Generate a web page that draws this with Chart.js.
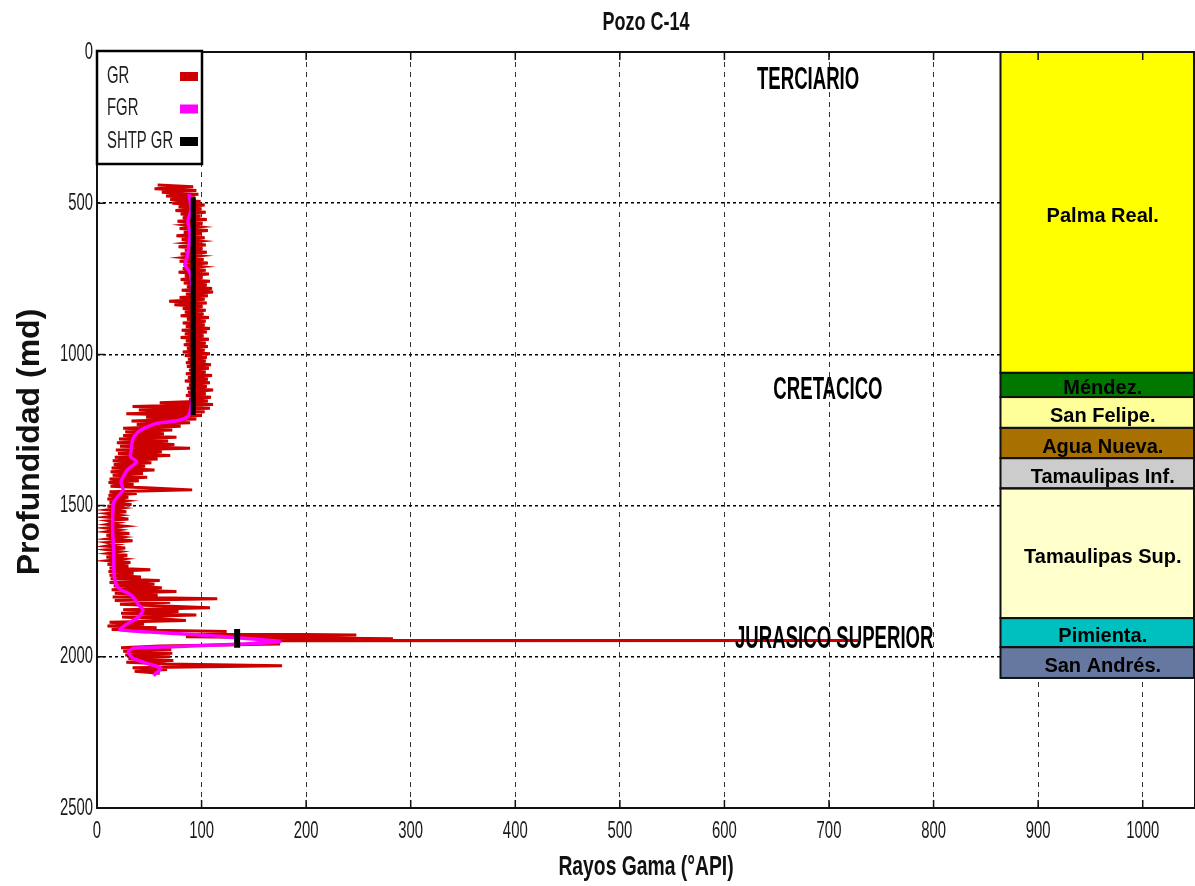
<!DOCTYPE html>
<html lang="es">
<head>
<meta charset="UTF-8">
<title>Pozo C-14</title>
<style>
  html, body { margin:0; padding:0; background:#fff; }
  #wrap { width:1195px; height:886px; }
</style>
</head>
<body>
<div id="wrap"><canvas id="chart" width="1195" height="886"></canvas></div>

<script src="https://cdn.jsdelivr.net/npm/chart.js"></script>
<script>
// GR (registro de rayos gama), profundidad / valor
const grDepth = [
  440,446,452,458,464,470,476,482,488,494,
  500,506,512,518,524,530,536,542,548,554,
  560,566,572,578,584,590,596,602,608,614,
  620,626,632,638,644,650,656,662,668,674,
  680,686,692,698,704,710,716,722,728,734,
  740,746,752,758,764,770,776,782,788,794,
  800,806,812,818,824,830,836,842,848,854,
  860,866,872,878,884,890,896,902,908,914,
  920,926,932,938,944,950,956,962,968,974,
  980,986,992,998,1004,1010,1016,1022,1028,1034,
  1040,1046,1052,1058,1064,1070,1076,1082,1088,1094,
  1100,1106,1112,1118,1124,1130,1136,1142,1148,1154,
  1160,1166,1172,1178,1184,1190,1196,1202,1208,1214,
  1220,1226,1232,1238,1244,1250,1256,1262,1268,1274,
  1280,1286,1292,1298,1304,1310,1316,1322,1328,1334,
  1340,1346,1352,1358,1364,1370,1376,1382,1388,1394,
  1400,1406,1412,1418,1424,1430,1436,1442,1448,1454,
  1460,1466,1472,1478,1484,1490,1496,1502,1508,1514,
  1520,1526,1532,1538,1544,1550,1556,1562,1568,1574,
  1580,1586,1592,1598,1604,1610,1616,1622,1628,1634,
  1640,1646,1652,1658,1664,1670,1676,1682,1688,1694,
  1700,1706,1712,1718,1724,1730,1736,1742,1748,1754,
  1760,1766,1772,1778,1784,1790,1796,1802,1808,1814,
  1820,1826,1832,1838,1844,1850,1856,1862,1868,1874,
  1880,1886,1892,1898,1904,1910,1916,1922,1928,1934,
  1940,1945,1946,1947,1952,1958,1964,1970,1976,1982,1988,1994,
  2000,2006,2012,2018,2024,2030,2036,2042,2048,2054
];
const grValue = [
  58,92,55,95,62,97,66,94,70,99,
  72,103,78,100,75,104,80,99,82,105,
  77,101,84,98,79,106,83,100,76,103,
  81,99,85,104,78,101,84,105,80,98,
  83,102,79,106,85,100,82,104,78,107,
  84,101,80,108,83,105,86,110,81,111,
  85,106,79,103,69,105,74,101,82,104,
  84,102,80,107,86,104,82,103,85,108,
  81,105,84,102,80,107,85,104,83,106,
  86,103,82,108,84,105,87,104,85,109,
  86,107,88,104,85,110,87,106,84,108,
  88,105,86,111,87,104,85,109,88,106,
  60,111,34,108,40,103,28,100,47,95,
  33,89,38,80,25,72,27,64,25,76,
  21,68,19,74,22,89,18,62,20,70,
  17,58,15,52,16,46,14,55,13,44,
  15,48,12,40,11,35,13,52,91,12,
  38,11,30,10,27,12,33,10,24,11,
  28,10,22,9,30,11,20,10,26,9,
  21,10,31,9,24,11,34,10,19,9,
  27,10,22,11,29,9,25,11,32,10,
  30,12,51,11,35,12,42,13,60,12,
  55,16,62,14,76,17,58,15,115,17,
  70,22,64,108,25,78,23,95,24,60,
  85,12,45,10,57,14,124,75,248,85,
  283,170,728,175,160,175,60,23,71,25,72,27,
  70,30,73,28,66,177,34,67,36,60
];

// FGR (GR filtrado)
const fgrDepth = [470,520,560,600,640,680,704,730,780,850,950,1050,1150,1190,1205,1218,1228,1240,1250,1265,
  1283,1310,1338,1355,1382,1421,1448,1470,1488,1530,1590,1650,1700,1745,1765,1779,1790,1800,1829,1845,
  1868,1885,1895,1911,1922,1933,1950,1960,1967,1972,1984,2004,2021,2037,2053,2062];
const fgrValue = [88,90,87,89,88,86,84,89,91,92,92,92,91,89,87,79,57,48,42,37,
  34,33,32,38,29,23,25,20,16,15,15,16,16,17,19,23,30,34,40,44,
  40,32,27,22,71,120,175,120,72,35,30,34,47,61,57,54];

// SHTP GR (dos tramos)
const shtpDepthA = [480, 1200];
const shtpValueA = [92, 92];
const shtpDepthB = [1908, 1970];
const shtpValueB = [134, 134];

// columna de formaciones
const formationNames = ['Palma Real.','Méndez.','San Felipe.','Agua Nueva.','Tamaulipas Inf.','Tamaulipas Sup.','Pimienta.','San Andrés.'];
const formationTop   = [0, 1061, 1141, 1243, 1343, 1443, 1872, 1968];
const formationBase  = [1061, 1141, 1243, 1343, 1443, 1872, 1968, 2070];
const formationColors = ['#ffff00','#007800','#ffff99','#a87000','#cccccc','#ffffcc','#00bfbf','#6677a0'];
const formationX = [864, 1050];

// eras
const eraNames = ['TERCIARIO','CRETACICO','JURASICO SUPERIOR'];
const eraDepth = [93, 1118, 1944];
const eraX = [680, 699, 705];

const xTicksMax = 1000;
const SANS = '"Liberation Sans", Arial, sans-serif';

// texto estrecho (tipo Arial Narrow)
function narrowText(ctx, text, x, y, size, bold, sx, align) {
  ctx.save();
  ctx.translate(x, y);
  ctx.scale(sx, 1);
  ctx.font = (bold ? 'bold ' : '') + size + 'px ' + SANS;
  ctx.textAlign = align;
  ctx.fillText(text, 0, 0);
  ctx.restore();
}

const toPts = (xs, ys) => ys.map((d, i) => ({ x: xs[i], y: d }));

// marco, columna y textos
const decorPlugin = {
  id: 'decor',
  beforeDatasetsDraw(chart) {
    const { ctx, scales: { x, y } } = chart;
    ctx.save();
    const x0 = x.getPixelForValue(formationX[0]);
    const x1 = x.getPixelForValue(formationX[1]);
    formationNames.forEach((n, i) => {
      const t = y.getPixelForValue(formationTop[i]);
      const b = y.getPixelForValue(formationBase[i]);
      ctx.fillStyle = formationColors[i];
      ctx.fillRect(x0, t, x1 - x0, b - t);
    });
    ctx.strokeStyle = '#111';
    ctx.lineWidth = 2;
    formationNames.forEach((n, i) => {
      const t = y.getPixelForValue(formationTop[i]);
      const b = y.getPixelForValue(formationBase[i]);
      ctx.strokeRect(x0, t, x1 - x0 - 1, b - t);
    });
    ctx.restore();
  },
  afterDatasetsDraw(chart) {
    const { ctx, chartArea: a, scales: { x, y } } = chart;
    ctx.save();
    ctx.fillStyle = '#000';
    ctx.textBaseline = 'middle';

    // nombres de formaciones
    const xc = (x.getPixelForValue(formationX[0]) + x.getPixelForValue(formationX[1])) / 2 + 5;
    ctx.font = 'bold 20px ' + SANS;
    ctx.textAlign = 'center';
    formationNames.forEach((n, i) => {
      const t = y.getPixelForValue(formationTop[i]);
      const b = y.getPixelForValue(formationBase[i]);
      ctx.fillText(n, xc, (t + b) / 2 + 4);
    });
    // eras
    eraNames.forEach((n, i) => {
      narrowText(ctx, n, x.getPixelForValue(eraX[i]), y.getPixelForValue(eraDepth[i]), 31, true, 0.6, 'center');
    });

    // marco
    ctx.setLineDash([]);
    ctx.strokeStyle = '#111';
    ctx.lineWidth = 2;
    ctx.strokeRect(a.left, a.top, a.right - a.left, a.bottom - a.top);
    // marcas internas
    ctx.lineWidth = 1.5;
    ctx.beginPath();
    x.ticks.forEach(t => {
      const px = x.getPixelForValue(t.value);
      ctx.moveTo(px, a.bottom); ctx.lineTo(px, a.bottom - 8);
      ctx.moveTo(px, a.top); ctx.lineTo(px, a.top + 8);
    });
    y.ticks.forEach(t => {
      const py = y.getPixelForValue(t.value);
      ctx.moveTo(a.left, py); ctx.lineTo(a.left + 8, py);
    });
    ctx.stroke();

    // etiquetas de los ejes
    ctx.fillStyle = '#1a1a1a';
    x.ticks.forEach(t => {
      if (t.value > xTicksMax) return;
      narrowText(ctx, String(t.value), x.getPixelForValue(t.value), a.bottom + 23, 24, false, 0.62, 'center');
    });
    y.ticks.forEach(t => {
      narrowText(ctx, String(t.value), a.left - 4, y.getPixelForValue(t.value), 24, false, 0.62, 'right');
    });

    // títulos
    ctx.fillStyle = '#111';
    ctx.textBaseline = 'alphabetic';
    narrowText(ctx, 'Pozo C-14', (a.left + a.right) / 2, 30, 25, true, 0.72, 'center');
    narrowText(ctx, 'Rayos Gama (°API)', (a.left + a.right) / 2, 875, 28, true, 0.69, 'center');
    ctx.save();
    ctx.translate(30, (a.top + a.bottom) / 2 + 12);
    ctx.rotate(-Math.PI / 2);
    ctx.font = 'bold 32px ' + SANS;
    ctx.textAlign = 'center';
    ctx.textBaseline = 'middle';
    ctx.fillText('Profundidad (md)', 0, 0);
    ctx.restore();

    // leyenda
    const lx = a.left, ly = a.top - 1, lw = 105, lh = 113;
    ctx.fillStyle = '#fff';
    ctx.fillRect(lx, ly, lw, lh);
    ctx.lineWidth = 2.5;
    ctx.strokeStyle = '#000';
    ctx.strokeRect(lx, ly, lw, lh);
    ctx.textBaseline = 'middle';
    const items = chart.data.datasets.filter(d => !d.hideInLegend);
    items.forEach((d, i) => {
      const cy = ly + 25 + i * 32.5;
      ctx.fillStyle = '#222';
      narrowText(ctx, d.label, lx + 10, cy, 24, false, 0.62, 'left');
      ctx.fillStyle = d.borderColor;
      ctx.fillRect(lx + 83, cy - 4, 18, 9);
    });
    ctx.restore();
  }
};

new Chart(document.getElementById('chart'), {
  type: 'scatter',
  data: {
    datasets: [
      { label: 'GR', data: toPts(grValue, grDepth), showLine: true, borderColor: '#cc0000',
        borderWidth: 3, pointRadius: 0, order: 3 },
      { label: 'FGR', data: toPts(fgrValue, fgrDepth), showLine: true, borderColor: '#ff00ff',
        borderWidth: 3.5, pointRadius: 0, tension: 0.2, order: 2 },
      { label: 'SHTP GR', data: toPts(shtpValueA, shtpDepthA), showLine: true, borderColor: '#000000',
        borderWidth: 5, pointRadius: 0, order: 1 },
      { label: 'SHTP GR', hideInLegend: true, data: toPts(shtpValueB, shtpDepthB), showLine: true,
        borderColor: '#000000', borderWidth: 6, pointRadius: 0, order: 1 }
    ]
  },
  options: {
    responsive: false,
    animation: false,
    layout: { padding: { top: 52, left: 0, right: 0, bottom: 0 } },
    plugins: {
      legend: { display: false },
      tooltip: { enabled: false },
      title: { display: false }
    },
    scales: {
      x: {
        type: 'linear',
        min: 0, max: 1050,
        afterFit(s) { s.height = 78; },
        border: { display: false, dash: [5, 5] },
        grid: { color: '#333', lineWidth: 1, drawTicks: false },
        ticks: { display: false, stepSize: 100, includeBounds: false }
      },
      y: {
        type: 'linear',
        reverse: true,
        min: 0, max: 2500,
        afterFit(s) { s.width = 97; },
        border: { display: false, dash: [3, 3] },
        grid: { color: '#000', lineWidth: 1.5, drawTicks: false },
        ticks: { display: false, stepSize: 500 }
      }
    }
  },
  plugins: [decorPlugin]
});
</script>
</body>
</html>
